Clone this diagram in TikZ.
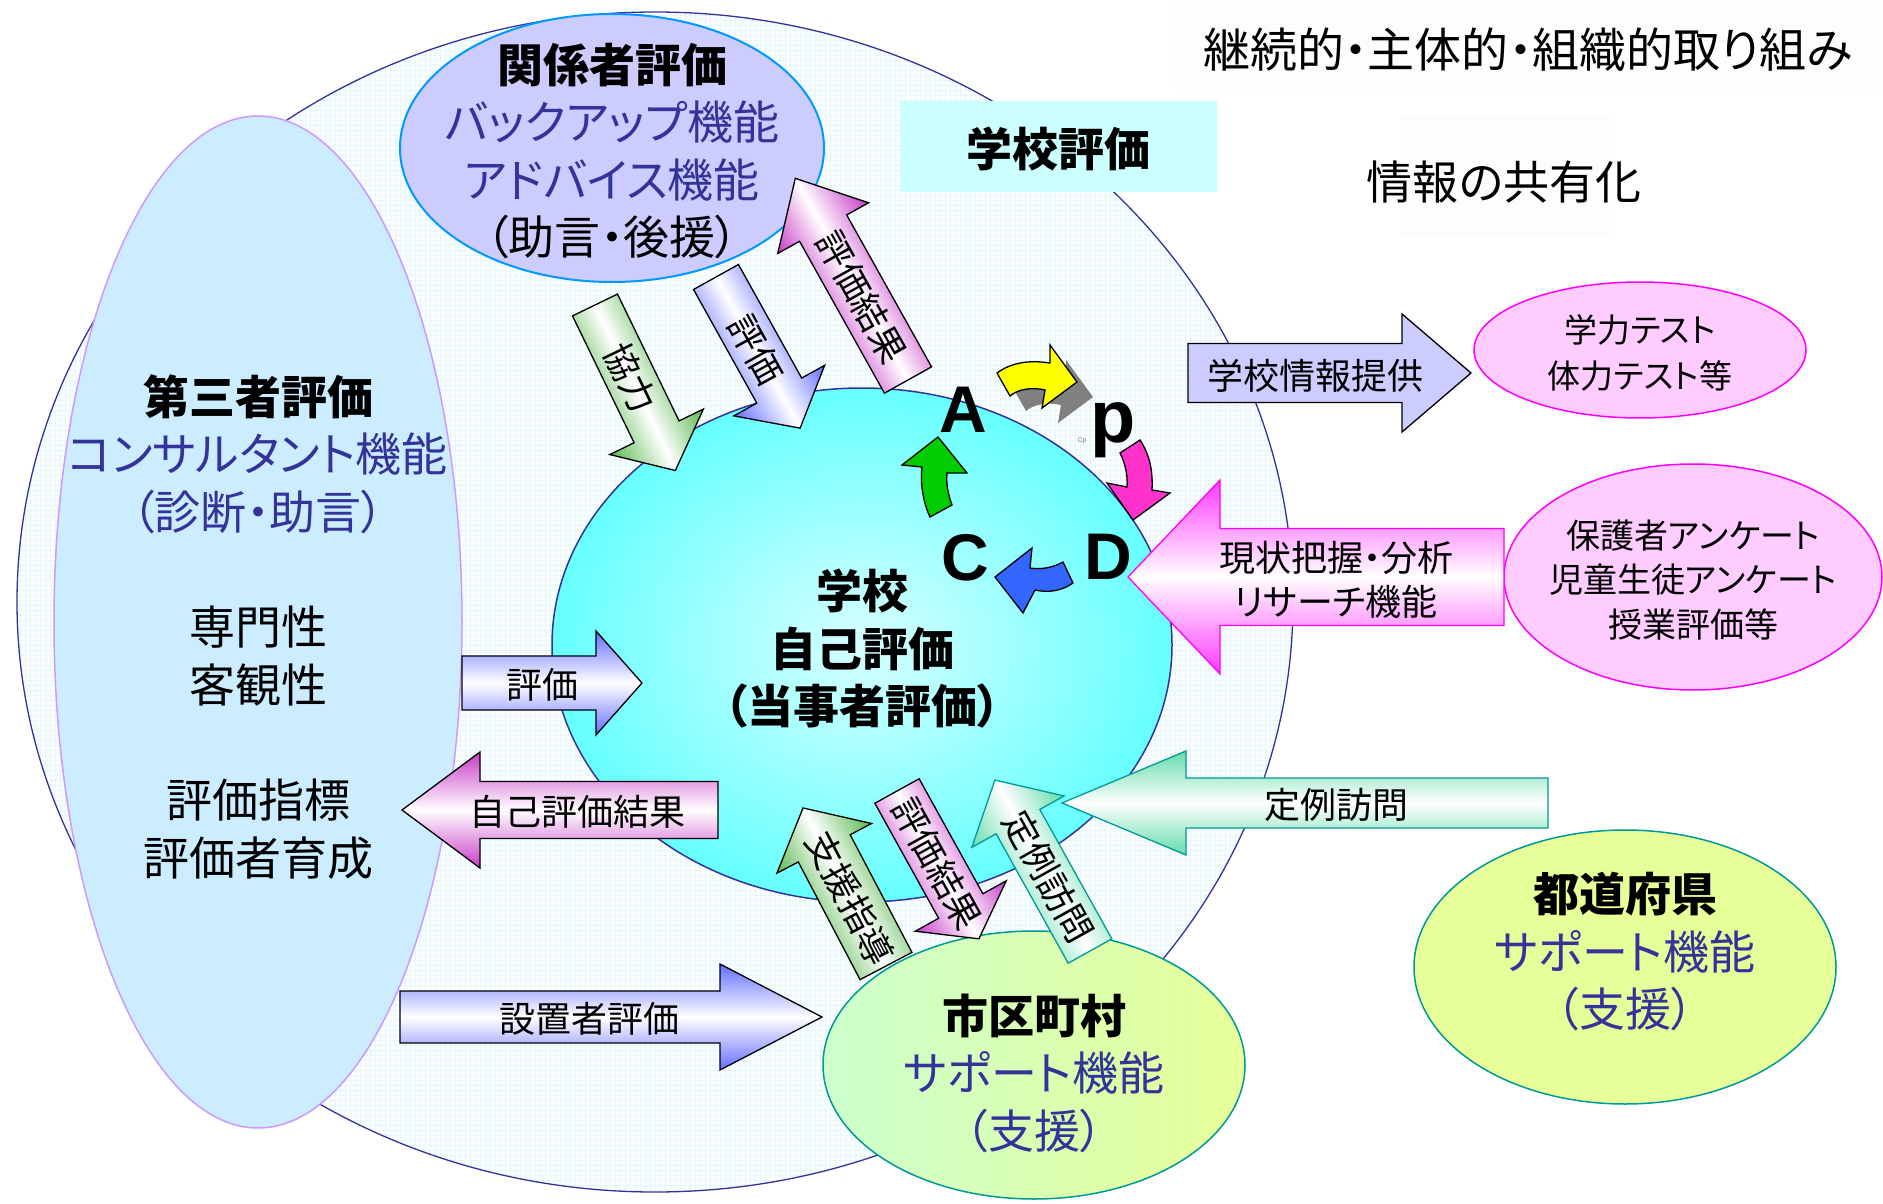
\documentclass[tikz,border=0pt]{standalone}
\usepackage{fontspec}
\setmainfont{Noto Sans CJK JP}[RawFeature=+palt]
\newfontfamily\pdcafont{Liberation Sans}
\definecolor{navy}{RGB}{51,51,153}
\definecolor{indigo}{RGB}{51,51,153}
\definecolor{thirdfill}{RGB}{204,236,255}
\definecolor{thirdline}{RGB}{204,153,255}
\definecolor{kanfill}{RGB}{204,204,255}
\definecolor{kanline}{RGB}{0,153,255}
\definecolor{hyoukafill}{RGB}{204,255,255}
\definecolor{schoolin}{RGB}{215,255,255}
\definecolor{schoolout}{RGB}{102,255,255}
\definecolor{pinkfill}{RGB}{255,204,255}
\definecolor{pinkline}{RGB}{255,0,255}
\definecolor{tealline}{RGB}{0,153,153}
\definecolor{lgreen}{RGB}{204,255,204}
\definecolor{lyellow}{RGB}{230,255,153}
\definecolor{gridc}{RGB}{230,246,250}
\definecolor{outerfill}{RGB}{250,254,255}
\definecolor{gcol}{RGB}{90,185,80}
\definecolor{bcol}{RGB}{100,110,255}
\definecolor{pcol}{RGB}{200,60,200}
\definecolor{mcol}{RGB}{255,60,255}
\definecolor{tcol}{RGB}{100,220,170}
\definecolor{infofill}{RGB}{204,204,255}
\definecolor{pdcay}{RGB}{255,255,0}
\definecolor{pdcam}{RGB}{255,51,204}
\definecolor{pdcab}{RGB}{51,102,255}
\definecolor{pdcag}{RGB}{0,204,0}
\definecolor{shadowc}{RGB}{128,128,128}
\definecolor{faint}{RGB}{252,253,253}
\tikzset{
  bigtext/.style={font=\fontsize{46}{57.5}\selectfont, align=center, inner sep=0pt},
  boldbig/.style={font=\bfseries\fontsize{46}{57.5}\selectfont, align=center, inner sep=0pt},
  arrowtext/.style={font=\fontsize{36}{44}\selectfont, align=center, inner sep=0pt},
  smalltext/.style={font=\fontsize{33}{46}\selectfont, align=center, inner sep=0pt},
  pdca/.style={font=\pdcafont\bfseries\fontsize{66}{66}\selectfont, inner sep=0pt},
  blockline/.style={draw=black, line width=1.3pt},
  gshade/.style={blockline, top color=gcol, bottom color=gcol, middle color=white},
  bshade/.style={blockline, top color=bcol, bottom color=bcol, middle color=white},
  pshade/.style={blockline, top color=pcol, bottom color=pcol, middle color=white},
  tshade/.style={draw=tealline, line width=1.3pt, top color=tcol, bottom color=tcol, middle color=white},
  mshade/.style={draw=pinkline, line width=1.3pt, top color=mcol, bottom color=mcol, middle color=white},
  infoarrow/.style={blockline, fill=infofill},
  pdcaarrow/.style={draw=black, line width=1.3pt},
}
% #1 tail centre, #2 rotation, #3 length, #4 shaft half width, #5 head half width,
% #6 head length, #7 style, #8 text, #9 node options
\newcommand{\blockarr}[9]{%
  \begin{scope}[transform canvas={shift={(#1)},rotate=#2}]
    \path[#7] (0,-#4) -- ({(#3)-(#6)},-#4) -- ({(#3)-(#6)},-#5) -- (#3,0)
      -- ({(#3)-(#6)},#5) -- ({(#3)-(#6)},#4) -- (0,#4) -- cycle;
    \node[arrowtext,#9] {#8};
  \end{scope}}
\newcommand{\yellowpath}{(997,373) .. controls (1012,362) and (1030,360) .. (1050,363)
  -- (1050,345) -- (1077,382) -- (1042,408) -- (1045,390)
  .. controls (1032,387) and (1018,389) .. (1010,396) -- cycle}
\begin{document}
\begin{tikzpicture}[x=1pt,y=-1pt]
\useasboundingbox (0,0) rectangle (1883,1204);
\fill[white] (0,0) rectangle (1883,1204);
% faint backgrounds of the two free texts
\fill[faint] (1175,0) rectangle (1883,94);
\fill[faint] (1400,116) rectangle (1610,236);
% outer ellipse with grid
\begin{scope}
  \clip (655,602) ellipse [x radius=638, y radius=590];
  \fill[outerfill] (0,0) rectangle (1883,1204);
  \draw[gridc, line width=0.5pt, step=5pt] (0,1204) grid (1300,0);
\end{scope}
\draw[navy, line width=1.3pt] (655,602) ellipse [x radius=638, y radius=590];
% third party
\draw[fill=thirdfill, draw=thirdline, line width=1.5pt] (258,622) ellipse [x radius=204, y radius=506];
\node[bigtext] (third) at (258,627) {\textbf{第三者評価}\\\textcolor{indigo}{コンサルタント機能}\\\textcolor{indigo}{（診断・助言）}\\[58pt]専門性\\客観性\\[58pt]評価指標\\評価者育成};
% stakeholders
\draw[fill=kanfill, draw=kanline, line width=2pt] (612,148) ellipse [x radius=212, y radius=134];
\node[bigtext] (kankei) at (612,151) {\textbf{関係者評価}\\\textcolor{indigo}{バックアップ機能}\\\textcolor{indigo}{アドバイス機能}\\（助言・後援）};
% school evaluation label
\fill[hyoukafill] (900,101) rectangle (1217,192);
\node[boldbig] (gakkohyoka) at (1058,149) {学校評価};
\node[bigtext, font=\fontsize{47}{57}\selectfont] (keizoku) at (1528,50) {継続的・主体的・組織的取り組み};
\node[bigtext] (kyoyu) at (1504,182) {情報の共有化};
% school
\shade[inner color=schoolin, outer color=schoolout] (862,645) ellipse [x radius=310, y radius=257];
\draw[navy, line width=1.5pt] (862,645) ellipse [x radius=310, y radius=257];
\node[boldbig] (school) at (862,649) {学校\\自己評価\\（当事者評価）};
% right ellipses
\draw[fill=pinkfill, draw=pinkline, line width=1.5pt] (1640,350) ellipse [x radius=166, y radius=68];
\node[smalltext] (test) at (1640,353) {学力テスト\\体力テスト等};
\draw[fill=pinkfill, draw=pinkline, line width=1.5pt] (1693,577) ellipse [x radius=189, y radius=113];
\node[smalltext, font=\fontsize{34}{44.5}\selectfont] (enquete) at (1693,580) {保護者アンケート\\児童生徒アンケート\\授業評価等};
% prefecture
\fill[lyellow] (1625,967) ellipse [x radius=211, y radius=137];
\draw[tealline, line width=1.5pt] (1625,967) ellipse [x radius=211, y radius=137];
\node[bigtext] (pref) at (1625,952) {\textbf{都道府県}\\\textcolor{indigo}{サポート機能}\\\textcolor{indigo}{（支援）}};
% municipality
\shade[left color=lgreen, right color=lyellow] (1034,1065) ellipse [x radius=211, y radius=134];
\draw[tealline, line width=1.5pt] (1034,1065) ellipse [x radius=211, y radius=134];
\node[bigtext] (city) at (1034,1073) {\textbf{市区町村}\\\textcolor{indigo}{サポート機能}\\\textcolor{indigo}{（支援）}};
% PDCA
\fill[shadowc, shift={(16,15)}] \yellowpath;
\path[pdcaarrow, fill=pdcay] \yellowpath;
\path[pdcaarrow, fill=pdcam] (1120,453) -- (1140,440) .. controls (1150,455) and (1153,472) .. (1152,490)
  -- (1170,493) -- (1133,520) -- (1107,483) -- (1127,487) .. controls (1128,475) and (1125,463) .. (1120,453) -- cycle;
\path[pdcaarrow, fill=pdcab] (1063,562) -- (1073,583) .. controls (1062,591) and (1048,593) .. (1035,590)
  -- (1023,613) -- (995,577) -- (1032,548) -- (1030,568) .. controls (1042,570) and (1054,567) .. (1063,562) -- cycle;
\path[pdcaarrow, fill=pdcag] (930,517) -- (952,505) .. controls (948,494) and (946,484) .. (947,473)
  -- (967,473) -- (938,437) -- (902,465) -- (922,467) .. controls (920,483) and (923,502) .. (930,517) -- cycle;
\node[pdca] (A) at (963,410) {A};
\node[pdca, font=\pdcafont\bfseries\fontsize{74}{74}\selectfont] (P) at (1113,430) {p};
\node[pdca] (C) at (965,558) {C};
\node[pdca] (D) at (1108,557) {D};
\node[font=\pdcafont\fontsize{7}{7}\selectfont, text=shadowc, inner sep=0pt] (cp) at (1082,441) {Cp};
% block arrows
\blockarr{595,305}{-64.1}{184}{25}{52}{43}{gshade}{協力}{name=kyoryoku, at={(81,0)}}
\blockarr{716,277}{-60.9}{173}{25.7}{52}{43}{bshade}{評価}{name=hyoka1, at={(83,0)}}
\blockarr{908,380}{-60.8}{-231}{27}{52}{-57}{pshade}{評価結果}{name=kekka1, at={(-95,0)}}
\blockarr{462,683}{0}{180}{27}{52}{46}{bshade}{評価}{name=hyoka2, at={(80,2)}}
\blockarr{718,810}{0}{-316}{28.5}{58}{-78}{pshade}{自己評価結果}{name=jikokekka, at={(-141,2)}}
\blockarr{400,1017}{0}{422}{26}{53}{102}{bshade}{設置者評価}{name=setchisha, at={(189,2)}}
\blockarr{1548,803}{0}{-486}{25}{52}{-124}{tshade}{定例訪問}{name=teirei1, at={(-212,2)}}
\blockarr{1188,373}{0}{283}{29.5}{59}{69}{infoarrow}{学校情報提供}{name=info, at={(127,3)}}
\blockarr{1504,577}{0}{-376}{48.5}{97}{-92}{mshade}{現状把握・分析\\リサーチ機能}{name=genjo, at={(-168,3)}}
\blockarr{886,966}{-62.3}{-178.5}{29.3}{53.5}{-45.6}{gshade}{支援指導}{name=shien, at={(-77,0)}}
\blockarr{897,791}{-61}{169}{25.3}{52}{37.5}{pshade}{評価結果}{name=kekka2, at={(83,0)}}
\blockarr{1090,951}{-60.9}{-195.6}{25}{52.8}{-47.5}{tshade}{定例訪問}{name=teirei2, at={(-85,0)}}
\end{tikzpicture}
\end{document}
